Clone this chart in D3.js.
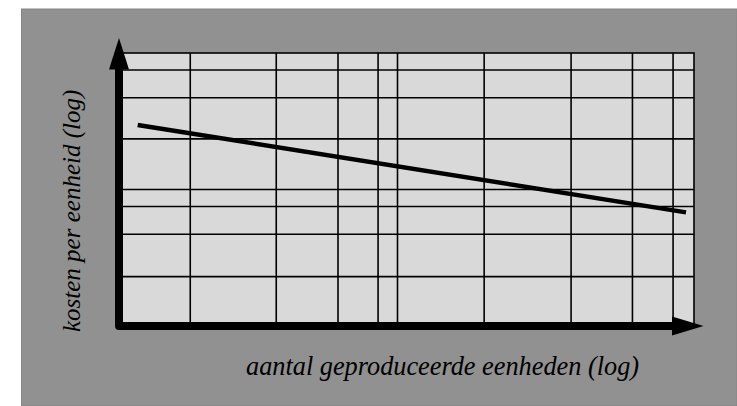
<!DOCTYPE html>
<html>
<head>
<meta charset="utf-8">
<script src="https://cdn.jsdelivr.net/npm/d3@7"></script>
<style>
  html, body { margin: 0; padding: 0; background: #ffffff; }
  svg { display: block; }
</style>
</head>
<body>
<div id="chart"></div>
<script>
// Data (log-log learning curve)
const xGrid = [2, 3.9, 6.3, 8.6, 10, 19.6, 38.5, 62, 85];   // vertical grid lines
const yGrid = [2.3, 4.7, 7.5, 10, 23.5, 47, 75];             // horizontal grid lines
const xDomain = [1.15, 100];
const yDomain = [1, 100];
const unitsProduced = [1.33, 94];      // aantal geproduceerde eenheden
const costPerUnit = [29.7, 6.8];       // kosten per eenheid
const xLabel = "aantal geproduceerde eenheden (log)";
const yLabel = "kosten per eenheid (log)";

const W = 737, H = 406;
const svg = d3.select("#chart").append("svg").attr("width", W).attr("height", H);

// outer gray panel
svg.append("rect").attr("x", 21.5).attr("y", 9).attr("width", W - 21.5).attr("height", H - 9)
  .attr("fill", "#919191").attr("stroke", "#858585").attr("stroke-width", 1);

const x = d3.scaleLog().domain(xDomain).range([119, 694]);
const y = d3.scaleLog().domain(yDomain).range([326, 53]);

// plot area
svg.append("rect")
  .attr("x", x(xDomain[0])).attr("y", y(yDomain[1]))
  .attr("width", x(xDomain[1]) - x(xDomain[0]))
  .attr("height", y(yDomain[0]) - y(yDomain[1]))
  .attr("fill", "#d9d9d9").attr("stroke", "#000").attr("stroke-width", 1.6);

// grid
const g = svg.append("g").attr("stroke", "#000").attr("stroke-width", 1.6);
g.selectAll("line.v").data(xGrid).join("line").attr("class", "v")
  .attr("x1", d => x(d)).attr("x2", d => x(d))
  .attr("y1", y(yDomain[1])).attr("y2", y(yDomain[0]));
g.selectAll("line.h").data(yGrid).join("line").attr("class", "h")
  .attr("y1", d => y(d)).attr("y2", d => y(d))
  .attr("x1", x(xDomain[0])).attr("x2", x(xDomain[1]));

// data line
const pts = unitsProduced.map((u, i) => [u, costPerUnit[i]]);
svg.append("path").datum(pts)
  .attr("d", d3.line().x(d => x(d[0])).y(d => y(d[1])))
  .attr("fill", "none").attr("stroke", "#000").attr("stroke-width", 4.5);

// axes with arrows
const x0 = x(xDomain[0]), y0 = y(yDomain[0]);
svg.append("path")
  .attr("d", `M${x0},69 L${x0},${y0} L672.5,${y0}`)
  .attr("fill", "none").attr("stroke", "#000").attr("stroke-width", 8)
  .attr("stroke-linejoin", "round");
svg.append("path").attr("d", `M${x0},38 L${x0 + 10},69.5 L${x0 - 10},69.5 Z`).attr("fill", "#000");
svg.append("path").attr("d", `M703.5,${y0} L672,${y0 - 9.5} L672,${y0 + 9.5} Z`).attr("fill", "#000");

// labels
svg.append("text").attr("x", 246).attr("y", 375)
  .attr("font-family", "'Liberation Serif', 'Times New Roman', serif")
  .attr("font-style", "italic").attr("font-size", 26.3).attr("fill", "#000")
  .text(xLabel);
svg.append("text").attr("transform", "translate(80,332) rotate(-90)")
  .attr("font-family", "'Liberation Serif', 'Times New Roman', serif")
  .attr("font-style", "italic").attr("font-size", 25).attr("fill", "#000")
  .text(yLabel);
</script>
</body>
</html>
